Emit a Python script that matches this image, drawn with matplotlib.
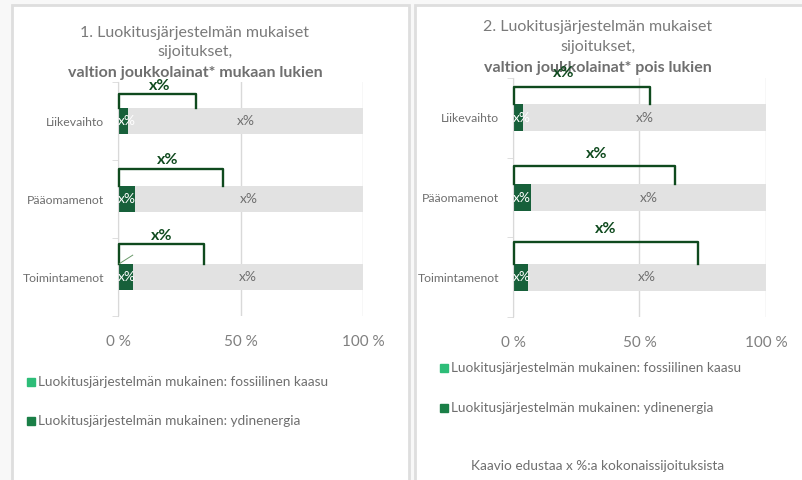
import matplotlib
matplotlib.use('Agg')
import matplotlib.pyplot as plt
from matplotlib.patches import Rectangle

plt.rcParams['font.family'] = ['Lato', 'DejaVu Sans']

# ── Data ──────────────────────────────────────────────
categories = ['Liikevaihto', 'Pääomamenot', 'Toimintamenot']
green_left = [4, 7, 6]          # ydinenergia share, chart 1
green_right = [4, 7, 6]         # chart 2
bracket_left = [32, 43, 35]     # bracket width (share of aligned), chart 1
bracket_right = [54, 64, 73]    # chart 2
bar_labels = ['x%', 'x%', 'x%']
titles = [['1. Luokitusjärjestelmän mukaiset', 'sijoitukset,', 'valtion joukkolainat* mukaan lukien'],
          ['2. Luokitusjärjestelmän mukaiset', 'sijoitukset,', 'valtion joukkolainat* pois lukien']]
legend_labels = ['Luokitusjärjestelmän mukainen: fossiilinen kaasu',
                 'Luokitusjärjestelmän mukainen: ydinenergia']
footer = 'Kaavio edustaa x %:a kokonaissijoituksista'

BG = '#f8f8f8'
FRAME = '#dedede'
GRAY_BAR = '#e2e2e2'
DARK = '#17603a'
BRACKET = '#0f4a1e'
TXT = '#7f7f7f'
TITLE = '#7a7a7a'
GAS = '#2dbd78'
NUC = '#1a7f47'

W, H = 803, 480
fig = plt.figure(figsize=(W / 100, H / 100), dpi=100, facecolor=BG)

def fx(px): return px / W
def fy(py): return 1 - py / H

# panel frames
for x0, x1 in [(12, 409), (415, 806)]:
    fig.patches.append(Rectangle((fx(x0), fy(484)), fx(x1 - x0), (484 - 5) / H,
                                 transform=fig.transFigure, facecolor='white',
                                 edgecolor=FRAME, linewidth=2, zorder=-10))

def panel(rect, greens, brackets, top_off, lab_off, lab_frac, title, tcx, tys, legy, legx):
    ax = fig.add_axes(rect)
    ax.set_facecolor('none')
    ys = list(range(len(categories)))
    grays = [100 - g for g in greens]
    h = 0.335
    ax.barh(ys, greens, height=h, color=DARK, zorder=2)
    ax.barh(ys, grays, left=greens, height=h, color=GRAY_BAR, zorder=2)
    for y, g, gr, b, to, lo, lf, lab in zip(ys, greens, grays, brackets, top_off,
                                            lab_off, lab_frac, bar_labels):
        ax.text(0, y, lab, color='white', fontsize=10, ha='left', va='center', zorder=3)
        ax.text(g + gr / 2, y, lab, color='#6f6f6f', fontsize=10, ha='center', va='center', zorder=3)
        bt = y - h / 2
        ax.plot([0.3, 0.3, b, b], [bt, y + to, y + to, bt], color=BRACKET, lw=1.7,
                solid_joinstyle='round', zorder=4, clip_on=False)
        ax.text(b * lf, y + lo, lab, color=BRACKET, fontsize=11.5, fontweight='bold',
                ha='center', va='center', zorder=5)
    ax.set_xlim(0, 100)
    ax.set_ylim(len(categories) - 0.5, -0.5)
    ax.set_xticks([0, 50, 100])
    ax.set_xticklabels(['0 %', '50 %', '100 %'])
    ax.tick_params(axis='x', length=0, pad=14, labelsize=11, colors=TXT)
    ax.set_yticks(ys)
    ax.set_yticklabels(categories)
    ax.set_yticks([-0.5, 0.5, 1.5, 2.5], minor=True)
    ax.tick_params(axis='y', which='major', length=0, pad=10, labelsize=8.8, colors='#6f6f6f')
    ax.tick_params(axis='y', which='minor', length=4, color='#d9d9d9')
    ax.grid(axis='x', color='#d9d9d9', lw=1, zorder=0)
    for s in ['top', 'right', 'bottom']:
        ax.spines[s].set_visible(False)
    ax.spines['left'].set_color('#d9d9d9')
    # titles
    for i, (line, ty) in enumerate(zip(title, tys)):
        bold = i == len(title) - 1
        fig.text(fx(tcx), fy(ty), line, ha='center', va='center', fontsize=11.5,
                 color='#6f6f6f' if bold else TITLE, fontweight='bold' if bold else 'normal',
                 zorder=1)
    # legend
    for (lab, c), ly in zip(zip(legend_labels, [GAS, NUC]), legy):
        fig.patches.append(Rectangle((fx(legx), fy(ly + 4)), fx(8), 8 / H,
                                     transform=fig.transFigure, color=c, zorder=3))
        fig.text(fx(legx + 11), fy(ly), lab, ha='left', va='center', fontsize=9.8,
                 color='#6f6f6f')
    return ax

ax1 = panel([fx(118), fy(316), fx(245), 234 / H], green_left, bracket_left,
            [-0.34, -0.385, -0.42], [-0.45, -0.5, -0.52], [0.53, 0.47, 0.51],
            titles[0], 195, [33, 52, 73], [382, 421], 27)
ax2 = panel([fx(513), fy(317), fx(253), 239 / H], green_right, bracket_right,
            [-0.39, -0.4, -0.44], [-0.56, -0.55, -0.6], [0.37, 0.52, 0.5],
            titles[1], 598, [27, 47, 68], [368, 408], 440)
ax2.set_zorder(2)

# leader line artifact on Toimintamenot, chart 1
ax1.plot([0.5, 6], [1.83, 1.72], color='#6a9a6a', lw=0.7, zorder=4)

fig.text(fx(598), fy(466), footer, ha='center', va='center', fontsize=9.8, color='#6f6f6f')

fig.savefig('out.png', dpi=100, facecolor=BG)
